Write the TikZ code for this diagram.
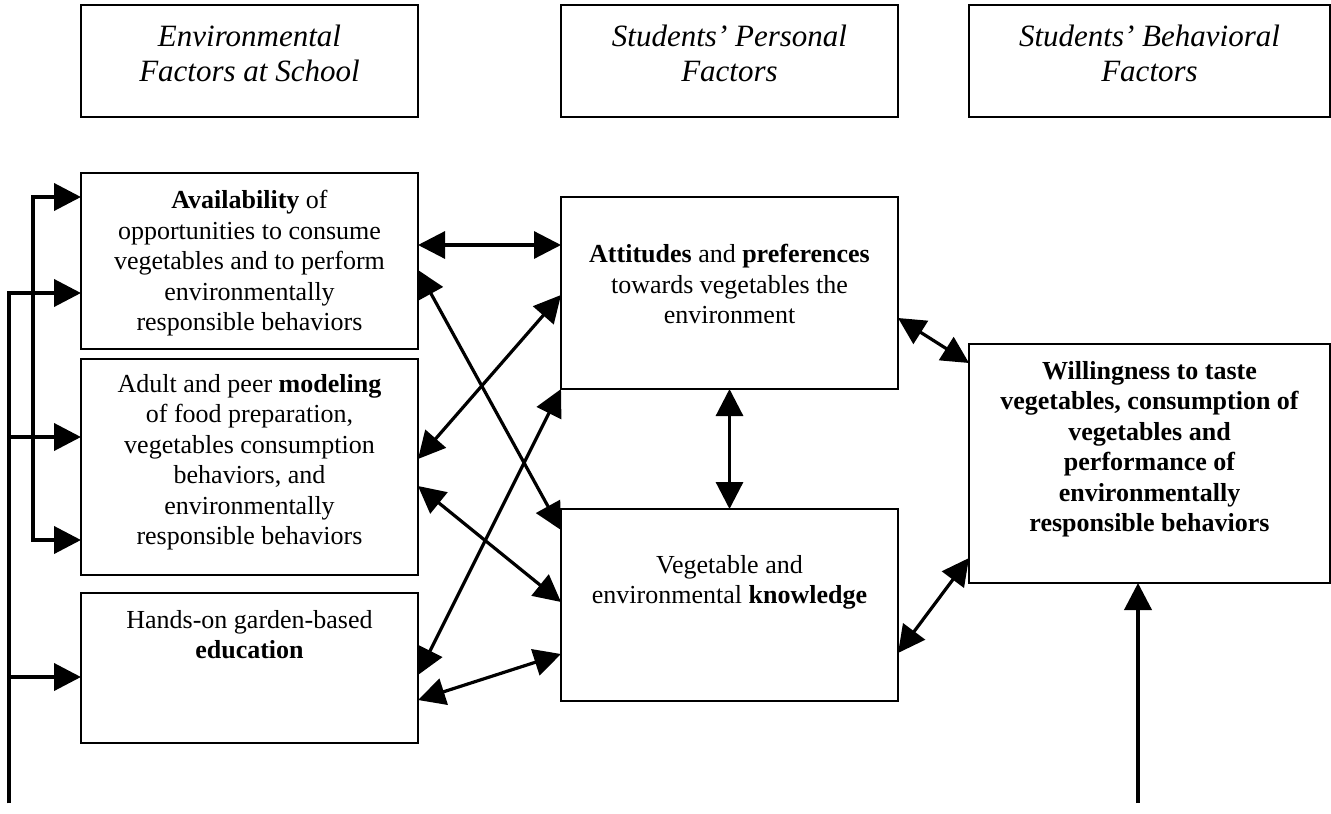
\documentclass[tikz,border=0pt]{standalone}
\usepackage{fontspec}
\setmainfont{Liberation Serif}
\usetikzlibrary{arrows.meta,positioning}
\newcommand{\txtbox}[4]{\parbox[t][#2][t]{#1}{\centering\vspace*{#3}#4}}
\tikzset{
    %Define standard arrow tip
    >={Triangle[length=13.5pt,width=13.5pt]},
    %Define style for boxes
    kasten/.style={
           rectangle,
           draw=black, line width=0.8pt,
           inner sep=0pt, outer sep=0pt,
           font=\fontsize{13pt}{15.25pt}\selectfont},
    %Define style for header boxes
    kopf/.style={
           rectangle,
           draw=black, line width=1.25pt,
           inner sep=0pt, outer sep=0pt,
           font=\fontsize{15.5pt}{17.5pt}\selectfont\itshape},
    % Define arrow style
    pil/.style={
           ->,
           line width=2pt},
    dpil/.style={
           <->,
           line width=1.6pt}
}

\begin{document}
\begin{tikzpicture}[x=0.5pt, y=-0.5pt, node distance=1cm, auto]
\useasboundingbox (0,0) rectangle (1331,813);

%header
\node[kopf] (env) at (249.5,61) {\txtbox{168.5pt}{56pt}{9.8pt}{Environmental\\Factors at School}};
\node[kopf, right=71.5pt of env] (pers) {\txtbox{168.5pt}{56pt}{9.8pt}{Students’ Personal\\Factors}};
\node[kopf, right=35.5pt of pers] (beh) {\txtbox{180.5pt}{56pt}{9.8pt}{Students’ Behavioral\\Factors}};

%nodes
\node[kasten] (avail) at (249.5,261) {\txtbox{168.5pt}{88pt}{8.6pt}{\textbf{Availability} of\\opportunities to consume\\vegetables and to perform\\environmentally\\responsible behaviors}};
\node[kasten, below=5pt of avail] (model) {\txtbox{168.5pt}{108pt}{7.7pt}{Adult and peer \textbf{modeling}\\of food preparation,\\vegetables consumption\\behaviors, and\\environmentally\\responsible behaviors}};
\node[kasten, below=9pt of model] (hands) {\txtbox{168.5pt}{75pt}{8.6pt}{Hands-on garden-based\\\textbf{education}}};
\node[kasten] (attit) at (729.5,293) {\txtbox{168.5pt}{96pt}{23.6pt}{\textbf{Attitudes} and \textbf{preferences}\\towards vegetables the\\environment}};
\node[kasten, below=60pt of attit] (know) {\txtbox{168.5pt}{96pt}{23.1pt}{Vegetable and\\environmental \textbf{knowledge}}};
\node[kasten] (will) at (1149.5,463.5) {\txtbox{180.5pt}{119.5pt}{8.5pt}{\bfseries Willingness to taste\\vegetables, consumption of\\vegetables and\\performance of\\environmentally\\responsible behaviors}};

\coordinate (innen) at (33,400);
\coordinate (aussen) at (9,803);
\coordinate (unten) at (1138,803);

%arrows
\draw[pil, <->] ([yshift=32pt]avail.west) -| (innen) |- ([yshift=-36.5pt]model.west);
\draw[pil] (aussen) |- ([yshift=-16pt]avail.west);
\draw[pil] (aussen) |- ([yshift=15pt]model.west);
\draw[pil] (aussen) |- ([yshift=-4.5pt]hands.west);
\draw[pil] (unten) -- (unten |- will.south);

\draw[dpil] ([yshift=8pt]avail.east) -- ([yshift=8pt]avail.east -| attit.west);
\draw[dpil] ([yshift=-4.5pt]avail.east) -- ([yshift=37.5pt]know.west);
\draw[dpil] ([yshift=-1pt]attit.west) -- ([yshift=4pt]model.east);
\draw[dpil] (attit.south west) -- ([yshift=-3.5pt]hands.east);
\draw[dpil] ([yshift=-9.5pt]model.east) -- ([yshift=1.5pt]know.west);
\draw[dpil] ([yshift=-16pt]hands.east) -- ([yshift=-24.5pt]know.west);
\draw[dpil] (attit.south) -- (know.north);
\draw[dpil] ([yshift=-12.5pt]attit.east) -- ([yshift=50.25pt]will.west);
\draw[dpil] ([yshift=-24pt]know.east) -- ([yshift=-47.25pt]will.west);

\end{tikzpicture}
\end{document}
